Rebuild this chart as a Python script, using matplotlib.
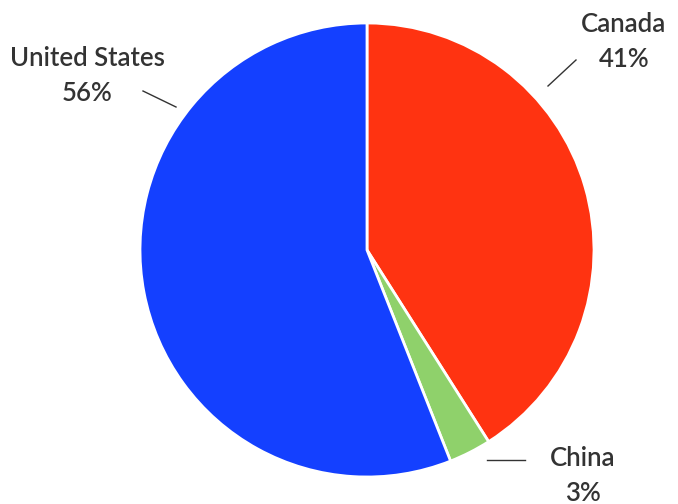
import matplotlib.pyplot as plt

# pie data, drawn clockwise from 12 o'clock
countries = ["Canada", "China", "United States"]
shares = [41, 3, 56]
colors = ["#ff3311", "#8fd16b", "#1440ff"]

# label placement (pixels from top-left) and leader lines
label_xy = {"Canada": (624, 42), "China": (583, 476), "United States": (87, 76)}
leaders = {"Canada": ((576, 60), (548, 86)),
           "China": ((487, 460), (525, 460)),
           "United States": ((143, 91), (176, 107))}

W, H = 678, 504
fig = plt.figure(figsize=(W / 100, H / 100), dpi=100)
ax = fig.add_axes([0, 0, 1, 1])

ax.pie(shares, colors=colors, startangle=90, counterclock=False,
       center=(367, H - 250), radius=227, frame=True,
       wedgeprops=dict(edgecolor="white", linewidth=2))
ax.set_xlim(0, W)
ax.set_ylim(0, H)
ax.set_aspect("equal")
ax.axis("off")

for name, share in zip(countries, shares):
    x, y = label_xy[name]
    ax.text(x, H - y, f"{name}\n{share}%", ha="center", va="center",
            fontsize=18.5, fontweight="semibold", family=["Lato", "DejaVu Sans"],
            color="#333333", linespacing=1.5)
    (x0, y0), (x1, y1) = leaders[name]
    ax.plot([x0, x1], [H - y0, H - y1], color="#333333", lw=1)

fig.savefig("out.png", dpi=100)
